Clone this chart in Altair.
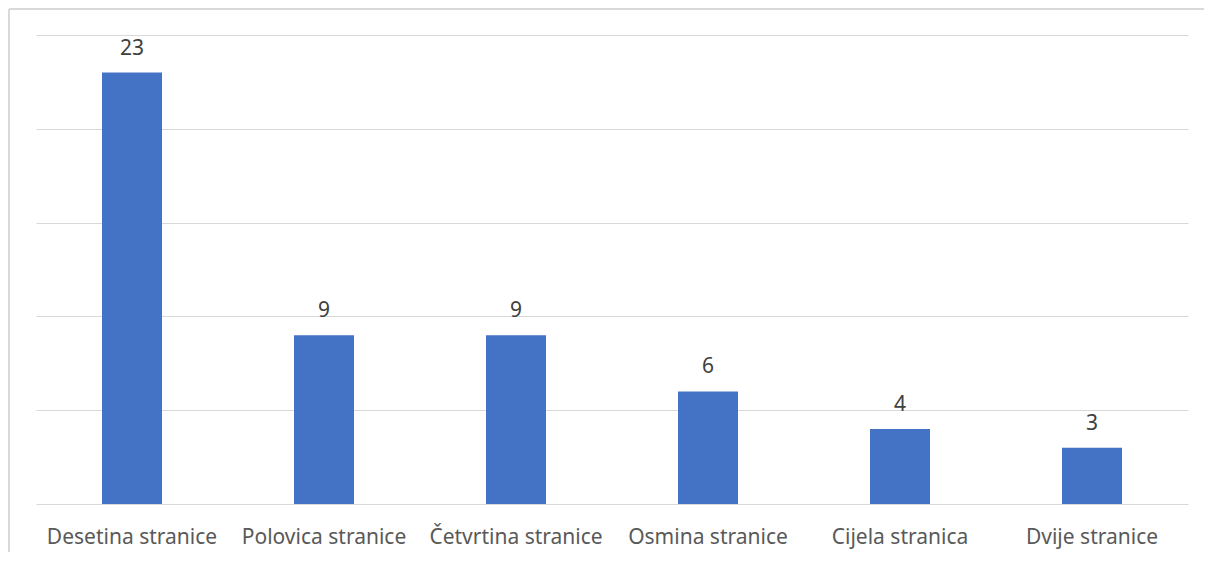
import altair as alt
import pandas as pd

categories = ["Desetina stranice", "Polovica stranice", "Četvrtina stranice",
              "Osmina stranice", "Cijela stranica", "Dvije stranice"]
values = [23, 9, 9, 6, 4, 3]

df = pd.DataFrame({"cat": categories, "val": values})

FONT = "Noto Sans"

x_enc = alt.X("cat:N", sort=categories, title=None,
              scale=alt.Scale(paddingInner=0.6875, paddingOuter=0.34375),
              axis=alt.Axis(labelAngle=0, ticks=False, domain=False, grid=False,
                            labelFont=FONT, labelFontSize=21, labelColor="#595959",
                            labelPadding=22))
y_enc = alt.Y("val:Q", title=None,
              scale=alt.Scale(domain=[0, 25], nice=False),
              axis=alt.Axis(values=[0, 5, 10, 15, 20, 25], labels=False, ticks=False,
                            domain=False, grid=True, gridColor="#d9d9d9", gridWidth=1))

bars = alt.Chart(df).mark_bar(color="#4472C4").encode(x=x_enc, y=y_enc)

labels = alt.Chart(df).mark_text(baseline="bottom", dy=-14, font=FONT, fontSize=21,
                                  color="#404040").encode(
    x=alt.X("cat:N", sort=categories), y="val:Q", text="val:Q")

frame_left = alt.Chart(df).mark_rule(color="#d9d9d9", strokeWidth=2).encode(
    x=alt.value(-27), y=alt.value(-26), y2=alt.value(560))
frame_top = alt.Chart(df).mark_rule(color="#d9d9d9", strokeWidth=2).encode(
    x=alt.value(-27), x2=alt.value(1190), y=alt.value(-26))

chart = alt.layer(bars, labels, frame_left, frame_top).properties(
    width=1152, height=469,
    padding={"left": 28, "top": 27, "right": 16, "bottom": 48},
    autosize=alt.AutoSizeParams(type="none"),
).configure_view(stroke=None)

chart.save("out.html", embed_options={"renderer": "svg", "actions": False})
